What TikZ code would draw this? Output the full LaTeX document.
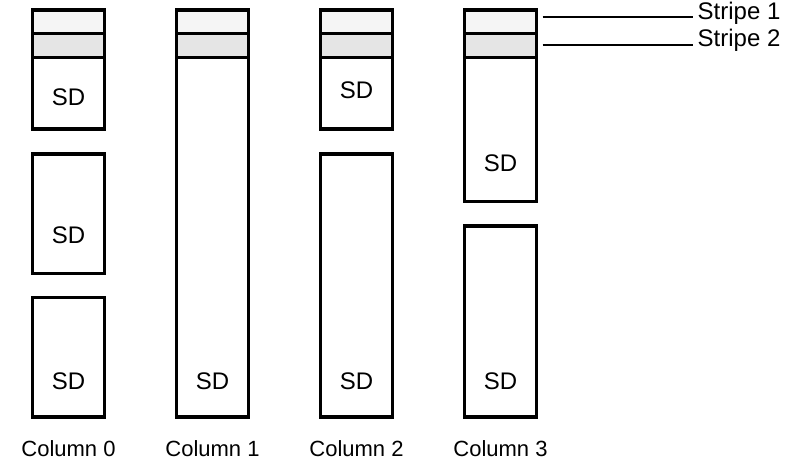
\documentclass[tikz,border=0pt]{standalone}
\usepackage{fontspec}
\setmainfont{Liberation Sans}
\usepackage{tikz}
\definecolor{stripeA}{gray}{0.96}
\definecolor{stripeB}{gray}{0.9}

\begin{document}
\begin{tikzpicture}[x=1pt,y=-1pt,
		box/.style={line width=3.3pt},
		sd/.style={font=\fontsize{24}{28}\selectfont,inner sep=0pt},
		lbl/.style={font=\fontsize{22}{26}\selectfont,inner sep=0pt}]
	\useasboundingbox (0,0) rectangle (789,461);
	
	\foreach \i/\b in {0/129,1/417,2/129,3/201.5} {
		\filldraw[box,fill=stripeA] (32.5+144*\i,10) rectangle (104.5+144*\i,33.5);
		\filldraw[box,fill=stripeB] (32.5+144*\i,33.5) rectangle (104.5+144*\i,57.5);
		\draw[box] (32.5+144*\i,57.5) rectangle (104.5+144*\i,\b);
		\node (col\i) at (68.5+144*\i,448.5) [lbl] {Column \i};
	}
	\draw[box] (32.5,154) rectangle (104.5,273.5);
	\draw[box] (32.5,297.5) rectangle (104.5,417);
	\draw[box] (320.5,154) rectangle (392.5,417);
	\draw[box] (464.5,226) rectangle (536.5,417);
	
	\node (sd0a) at (68.5,97.5) [sd] {SD};
	\node (sd0b) at (68.5,235) [sd] {SD};
	\node (sd0c) at (68.5,381) [sd] {SD};
	\node (sd1) at (212.5,381) [sd] {SD};
	\node (sd2a) at (356.5,90) [sd] {SD};
	\node (sd2b) at (356.5,381) [sd] {SD};
	\node (sd3a) at (500.5,163) [sd] {SD};
	\node (sd3b) at (500.5,381) [sd] {SD};
	
	\coordinate (p1) at (542.5,17);
	\coordinate (p2) at (542.5,45);
	\node (s1) at (693,19) [lbl,font=\fontsize{24}{28}\selectfont,anchor=base west,inner sep=4.5pt] {Stripe 1};
	\node (s2) at (693,46.5) [lbl,font=\fontsize{24}{28}\selectfont,anchor=base west,inner sep=4.5pt] {Stripe 2};
	\draw[line width=1.3pt] (p1) -- (p1 -| s1.west);
	\draw[line width=1.3pt] (p2) -- (p2 -| s2.west);
\end{tikzpicture}
\end{document}
